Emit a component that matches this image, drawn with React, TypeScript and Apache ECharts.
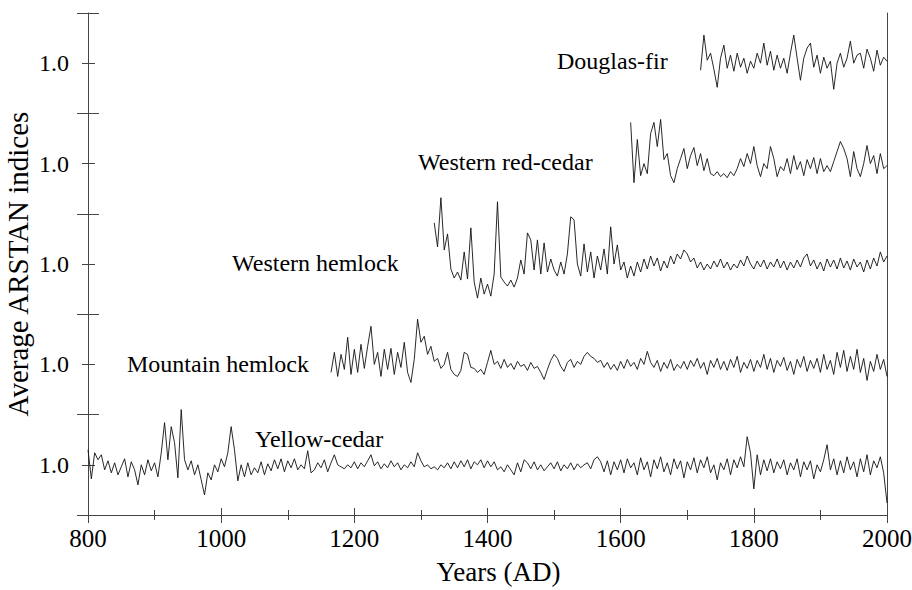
import React, { useEffect, useRef } from "react";
import * as echarts from "echarts";

const STEP = 5;
const FONT = "Liberation Serif, Times New Roman, serif";

const seriesNames = ["Yellow-cedar", "Mountain hemlock", "Western hemlock", "Western red-cedar", "Douglas-fir"];
const startYears = [800, 1165, 1320, 1615, 1720];

const yellowCedar = [
  1.15, 0.86, 1.12, 1.05, 1.1, 0.95, 1.04, 0.92, 1.02, 0.9,
  0.98, 1.06, 0.88, 1.03, 0.95, 0.8, 1.0, 0.9, 1.05, 0.94,
  1.02, 0.88, 1.12, 1.42, 1.05, 1.38, 1.22, 0.87, 1.55, 1.05,
  0.95, 1.04, 0.9, 1.0, 0.85, 0.7, 0.92, 0.85, 1.0, 0.93,
  1.06, 0.98, 1.12, 1.38, 1.15, 0.84, 1.0, 0.88, 1.02, 0.9,
  0.97, 0.92, 1.03, 0.9, 1.01, 0.94, 1.05, 0.96, 1.06, 0.93,
  1.04, 0.97, 1.06, 0.95, 1.0, 0.96, 1.14, 0.92, 0.95, 1.02,
  0.97, 1.05, 0.93, 1.02, 1.1, 1.0, 0.98, 0.96, 1.0, 0.97,
  1.03, 0.96, 1.02, 0.98, 1.04, 1.1, 0.99, 1.03, 0.96, 1.01,
  0.97, 1.04, 0.98, 1.02, 0.95, 1.0, 0.97, 1.03, 0.98, 1.12,
  1.04, 0.98, 1.0, 0.96, 0.98, 0.95, 1.0, 0.97, 1.02, 0.96,
  1.03, 0.97, 1.04, 0.98, 1.05, 0.96, 1.03, 1.0, 1.05, 0.97,
  1.04, 0.98, 1.03, 0.95, 0.98, 0.93, 1.0, 0.95, 0.9, 1.02,
  0.93, 1.05, 1.02, 0.96, 1.03, 0.95, 1.0, 0.94, 0.98, 1.02,
  0.96, 1.03, 0.94, 1.0, 0.96, 1.02, 0.95, 1.01, 0.97, 1.0,
  1.02, 0.96, 1.05, 1.08, 1.03, 0.93, 1.04, 0.9, 1.03, 0.95,
  1.05, 0.92, 1.06, 0.97, 1.02, 0.9, 1.07, 0.95, 1.03, 0.88,
  1.05, 0.96, 1.08, 0.93, 1.02, 0.9, 1.06, 0.96, 1.04, 0.87,
  1.03, 0.95, 1.07, 0.92, 1.05, 0.97, 1.08, 0.92, 1.0, 0.85,
  1.02, 0.95, 1.06, 0.9, 1.05, 0.97, 1.08, 0.98, 1.28, 1.12,
  0.76, 1.1, 0.9, 1.05, 0.94, 1.06, 0.92, 1.03, 0.96, 1.05,
  0.9, 1.02, 0.95, 1.06, 0.88, 1.03, 0.95, 1.04, 0.86, 1.0,
  0.93, 1.05, 1.2, 0.95, 1.06, 0.9, 1.04, 0.92, 1.08, 0.95,
  1.03, 0.88, 1.06, 0.93, 1.1, 0.9, 1.04, 0.97, 1.08, 0.92,
  0.62,
];

const mountainHemlock = [
  0.92, 1.12, 0.88, 1.1, 0.95, 1.27, 0.9,
  1.15, 0.92, 1.2, 0.96, 1.18, 1.38, 1.0, 1.12, 0.88, 1.15,
  0.95, 1.16, 0.9, 1.12, 0.97, 1.22, 0.92, 0.82, 1.05, 1.45,
  1.22, 1.28, 1.1, 1.18, 1.03, 1.06, 0.96, 1.0, 1.12, 0.95,
  0.9, 0.88, 0.94, 1.12, 1.1, 0.97, 0.96, 0.92, 0.95, 0.9,
  1.02, 1.14, 1.0, 1.03, 0.96, 1.05, 0.97, 1.01, 0.95, 1.03,
  0.98, 1.0, 0.94, 1.02, 0.96, 0.98, 0.92, 0.85, 0.95, 1.04,
  1.1, 1.06, 0.98, 0.93, 1.02, 1.05, 0.97, 1.03, 1.0, 1.08,
  1.12, 1.08, 1.06, 1.02, 1.04, 0.97, 1.02, 0.95, 1.0, 0.94,
  1.03, 0.96, 1.05, 0.98, 1.02, 0.95, 1.06, 1.0, 1.13, 1.02,
  0.97, 1.04, 0.93, 1.02, 0.96, 1.05, 0.94, 1.0, 0.96, 1.03,
  0.95, 1.04, 0.98, 1.06, 0.96, 1.02, 0.9, 1.04, 0.97, 1.06,
  0.95, 1.03, 0.94, 1.05, 0.97, 1.08, 0.92, 1.02, 0.96, 1.05,
  0.93, 1.04, 0.97, 1.1, 0.95, 1.06, 0.92, 1.04, 0.98, 1.07,
  0.94, 1.03, 0.9, 1.05, 0.97, 1.08, 0.93, 1.04, 0.96, 1.06,
  0.92, 1.1, 0.95, 1.04, 0.9, 1.12, 0.97, 1.14, 0.93, 1.08,
  0.95, 1.15, 0.92, 1.06, 0.84, 1.03, 0.93, 1.1, 0.95, 1.05,
  0.88,
];

const westernHemlock = [
  1.41, 1.17, 1.66, 1.14, 1.3, 0.95, 0.86, 0.92, 0.84, 1.12,
  0.85, 1.36, 0.82, 0.66, 0.86, 0.7, 0.8, 0.68, 0.9, 1.62,
  0.87, 0.82, 0.78, 0.84, 0.77, 0.86, 1.04, 0.9, 1.31, 1.24,
  0.94, 1.24, 0.9, 1.21, 0.92, 1.05, 0.94, 0.88, 1.02, 0.9,
  1.1, 1.47, 1.44, 1.0, 0.88, 1.2, 0.92, 1.12, 0.86, 1.08,
  0.94, 1.15, 0.9, 1.37, 1.0, 1.19, 0.94, 1.02, 0.86, 0.98,
  0.88, 1.02, 0.92, 1.05, 0.95, 1.08, 0.98, 1.06, 0.93, 1.03,
  0.96, 1.08, 1.0, 1.1, 1.05, 1.14, 1.1, 1.02, 1.06, 0.96,
  1.02, 0.94, 1.0, 0.95, 1.03, 0.97, 1.05, 0.96, 1.02, 0.94,
  1.0, 0.96, 1.04, 0.98, 1.08, 1.0, 0.95, 1.03, 0.97, 1.04,
  0.95, 1.02, 0.97, 1.05, 0.96, 1.03, 0.94, 1.02, 0.96, 1.04,
  0.97, 1.06, 1.1, 0.98, 1.04, 0.95, 1.02, 0.93, 1.05, 0.97,
  1.04, 0.95, 1.06, 0.96, 1.03, 0.94, 1.05, 0.97, 1.02, 0.92,
  1.04, 0.95, 1.06, 0.98, 1.12, 1.02, 1.08,
];

const westernRedCedar = [
  1.41, 0.81, 1.24, 0.88, 1.0, 0.9, 1.3, 1.41, 1.17, 1.44,
  1.04, 1.1, 0.88, 0.81, 0.95, 1.05, 1.15, 0.95, 1.08, 1.16,
  0.98, 1.1, 0.93, 1.05, 0.9, 0.88, 0.92, 0.87, 0.9, 0.86,
  0.92, 0.88, 0.95, 1.05, 0.97, 1.1, 1.0, 1.17, 0.98, 0.87,
  1.0, 0.95, 1.17, 1.05, 0.87, 0.97, 0.93, 1.05, 0.9, 1.08,
  0.94, 1.02, 0.88, 1.04, 0.95, 1.06, 0.9, 1.05, 0.92, 0.98,
  0.92, 1.02, 1.12, 1.22, 1.15, 1.05, 0.87, 1.12, 0.95, 0.87,
  1.0, 1.18, 1.0, 1.08, 0.9, 1.1, 0.95, 0.98,
];

const douglasFir = [
  0.93, 1.28, 1.03, 1.1, 0.94, 0.76, 1.05, 1.18, 0.95, 1.08,
  0.92, 1.1, 0.96, 1.05, 0.9, 1.02, 0.95, 1.1, 1.0, 1.2,
  0.98, 1.12, 0.93, 1.08, 0.95, 1.05, 0.9, 1.1, 1.28, 1.05,
  0.83, 1.05, 1.15, 1.2, 0.96, 1.08, 0.9, 1.06, 0.95, 1.02,
  0.74, 1.0, 1.1, 0.96, 1.05, 1.22, 1.0, 1.08, 1.1, 0.95,
  1.14, 1.05, 0.92, 1.13, 0.98, 1.06, 1.02,
];

const seriesValues = [yellowCedar, mountainHemlock, westernHemlock, westernRedCedar, douglasFir];

const xLabelYears = [800, 1000, 1200, 1400, 1600, 1800, 2000];
const xMinorYears = [900, 1100, 1300, 1500, 1700, 1900];
const yLabelPositions = [0.5, 1.5, 2.5, 3.5, 4.5];
const yBandEdges = [0, 1, 2, 3, 4, 5];
const yTickLabel = "1.0";

// label placement (page pixels) for each series name
const nameLabelPos = [
  [255, 439],
  [127, 364],
  [232, 263],
  [418, 162],
  [557, 61],
];

export default function App() {
  const ref = useRef<HTMLDivElement>(null);
  useEffect(() => {
    if (!ref.current) return;
    const chart = echarts.init(ref.current, null, { renderer: "svg" });
    const axisLineStyle = { color: "#444", width: 1 };
    const hidden = { show: false };
    const baseX = { type: "value", min: 800, max: 2000, interval: 100, position: "bottom", splitLine: hidden };
    const baseY = { type: "value", min: 0, max: 5, interval: 0.5, position: "left", splitLine: hidden };

    const series = seriesValues.map((vals, band) => ({
      type: "line",
      name: seriesNames[band],
      xAxisIndex: 0,
      yAxisIndex: 0,
      showSymbol: false,
      symbol: "none",
      lineStyle: { color: "#111", width: 0.9 },
      data: vals.map((v, k) => [startYears[band] + k * STEP, v - 1 + band + 0.5]),
    }));

    chart.setOption({
      animation: false,
      backgroundColor: "#fff",
      grid: { left: 88, right: 25, top: 13, bottom: 75, outerBoundsMode: "none", containLabel: false },
      xAxis: [
        {
          ...baseX,
          axisLine: { show: true, lineStyle: axisLineStyle },
          axisTick: { show: true, length: 5, customValues: xMinorYears, lineStyle: axisLineStyle },
          axisLabel: {
            show: true,
            customValues: xLabelYears,
            formatter: (v: number) => String(v),
            margin: 11,
            color: "#000",
            fontFamily: FONT,
            fontSize: 25,
          },
          name: "Years (AD)",
          nameLocation: "middle",
          nameGap: 43,
          nameTextStyle: { color: "#000", fontFamily: FONT, fontSize: 27, padding: [0, 0, 0, 22] },
        },
        {
          ...baseX,
          axisLine: hidden,
          axisLabel: hidden,
          axisTick: { show: true, inside: true, length: 5, customValues: xMinorYears, lineStyle: axisLineStyle },
        },
        {
          ...baseX,
          axisLine: hidden,
          axisLabel: hidden,
          axisTick: { show: true, length: 8, customValues: xLabelYears, lineStyle: axisLineStyle },
        },
        {
          ...baseX,
          axisLine: hidden,
          axisLabel: hidden,
          axisTick: { show: true, inside: true, length: 7, customValues: xLabelYears, lineStyle: axisLineStyle },
        },
        {
          ...baseX,
          position: "top",
          axisLine: { show: true, lineStyle: axisLineStyle },
          axisLabel: hidden,
          axisTick: hidden,
        },
      ],
      yAxis: [
        {
          ...baseY,
          axisLine: { show: true, lineStyle: axisLineStyle },
          axisTick: { show: true, length: 6, customValues: yLabelPositions, lineStyle: axisLineStyle },
          axisLabel: {
            show: true,
            customValues: yLabelPositions,
            formatter: () => yTickLabel,
            margin: 19,
            color: "#000",
            fontFamily: FONT,
            fontSize: 24,
          },
          name: "Average ARSTAN indices",
          nameLocation: "middle",
          nameGap: 56,
          nameMoveOverlap: false,
          nameRotate: 90,
          nameTextStyle: { color: "#000", fontFamily: FONT, fontSize: 29 },
        },
        {
          ...baseY,
          axisLine: hidden,
          axisLabel: hidden,
          axisTick: { show: true, inside: true, length: 7, customValues: yLabelPositions, lineStyle: axisLineStyle },
        },
        {
          ...baseY,
          axisLine: hidden,
          axisLabel: hidden,
          axisTick: { show: true, length: 11, customValues: yBandEdges, lineStyle: axisLineStyle },
        },
        {
          ...baseY,
          axisLine: hidden,
          axisLabel: hidden,
          axisTick: { show: true, inside: true, length: 11, customValues: yBandEdges, lineStyle: axisLineStyle },
        },
        {
          ...baseY,
          position: "right",
          axisLine: { show: true, lineStyle: axisLineStyle },
          axisLabel: hidden,
          axisTick: hidden,
        },
      ],
      graphic: seriesNames.map((name, i) => ({
        type: "text",
        x: nameLabelPos[i][0],
        y: nameLabelPos[i][1],
        style: {
          text: name,
          fill: "#000",
          font: `24px ${FONT}`,
          align: "left",
          verticalAlign: "middle",
        },
      })),
      series,
    });
    return () => chart.dispose();
  }, []);
  return <div ref={ref} style={{ position: "fixed", left: 0, top: 0, width: 912, height: 590 }} />;
}
